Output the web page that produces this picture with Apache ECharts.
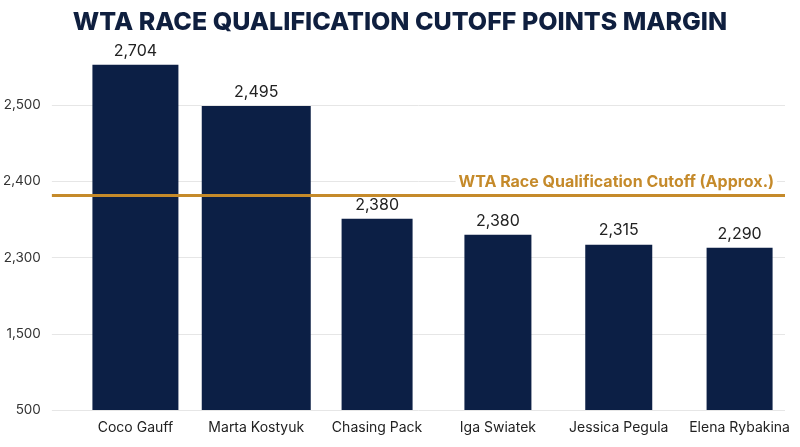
<!DOCTYPE html>
<html><head><meta charset="utf-8">
<script src="https://cdn.jsdelivr.net/npm/echarts@6/dist/echarts.min.js"></script>
<style>html,body{margin:0;padding:0;background:#fff}#c{width:800px;height:447px}</style>
</head><body><div id="c"></div>
<script>
const categories = ['Coco Gauff','Marta Kostyuk','Chasing Pack','Iga Swiatek','Jessica Pegula','Elena Rybakina'];
// values printed above the bars
const shownValues = [2704, 2495, 2380, 2380, 2315, 2290];
// bar heights as drawn on the (evenly spaced, non-linear) axis, in tick steps
const barHeights = [4.53, 3.99, 2.51, 2.30, 2.17, 2.13];
// tick labels for the evenly spaced axis steps 0..4
const tickLabels = ['500','1,500','2,300','2,400','2,500'];
const cutoffLevel = 2.82;
const cutoffLabel = 'WTA Race Qualification Cutoff (Approx.)';
const titleText = 'WTA RACE QUALIFICATION CUTOFF POINTS MARGIN';

// styles (not data)
const barWidths = [86, 109, 71, 67, 67, 66];
const NAVY = '#0c1f45';
const GOLD = '#c58a2a';
const FONT = 'Inter, "Noto Sans", sans-serif';
const fmt = v => v.toLocaleString('en-US');

const chart = echarts.init(document.getElementById('c'), null, {renderer:'canvas'});
chart.setOption({
  animation: false,
  backgroundColor: '#fff',
  title: {
    text: titleText, left: 'center', top: 5,
    textStyle: {fontFamily: FONT, fontSize: 25, fontWeight: 800, color: '#0f1f3f'}
  },
  grid: [
    {left: 49, right: 15, top: 29, bottom: 37},
    {left: 75, right: -5, top: 29, bottom: 37}
  ],
  xAxis: [
    {type: 'category', gridIndex: 0, data: categories, show: false},
    {type: 'category', gridIndex: 1, data: categories,
     axisLine: {show: false}, axisTick: {show: false},
     axisLabel: {margin: 11, fontFamily: FONT, fontSize: 14, color: '#222', interval: 0}}
  ],
  yAxis: [
    {type: 'value', gridIndex: 0, min: 0, max: 5, interval: 1,
     axisLine: {show: false}, axisTick: {show: false},
     splitLine: {show: true, showMaxLine: false, lineStyle: {color: '#e6e6e6', width: 1}},
     axisLabel: {margin: 11, fontFamily: FONT, fontSize: 13.5, color: '#333',
       formatter: v => (tickLabels[v] !== undefined ? tickLabels[v] : '')}},
    {type: 'value', gridIndex: 1, min: 0, max: 5, interval: 1, show: false, splitLine: {show: false}}
  ],
  series: [
    {
      type: 'custom', xAxisIndex: 1, yAxisIndex: 1, z: 3,
      data: categories.map((c, i) => [i, barHeights[i]]),
      renderItem(params, api) {
        const i = params.dataIndex;
        const top = api.coord([api.value(0), api.value(1)]);
        const base = api.coord([api.value(0), 0]);
        const w = barWidths[i];
        return {type: 'group', children: [
          {type: 'rect', shape: {x: top[0] - w / 2, y: top[1], width: w, height: base[1] - top[1]},
           style: {fill: NAVY}},
          {type: 'text', style: {text: fmt(shownValues[i]), x: top[0], y: top[1] - 6,
            align: 'center', verticalAlign: 'bottom', font: '16px ' + FONT, fill: '#222'}}
        ]};
      }
    },
    {
      type: 'line', xAxisIndex: 0, yAxisIndex: 0, data: [], z: 4,
      markLine: {
        silent: true, symbol: ['none', 'none'],
        lineStyle: {color: GOLD, width: 3, type: 'solid'},
        label: {show: true, position: 'insideEndTop', formatter: cutoffLabel,
          fontFamily: FONT, fontSize: 16, fontWeight: 'bold', color: GOLD,
          backgroundColor: '#fff', padding: [1, 3], distance: [8, 4]},
        data: [{yAxis: cutoffLevel}]
      }
    }
  ]
});
</script></body></html>
